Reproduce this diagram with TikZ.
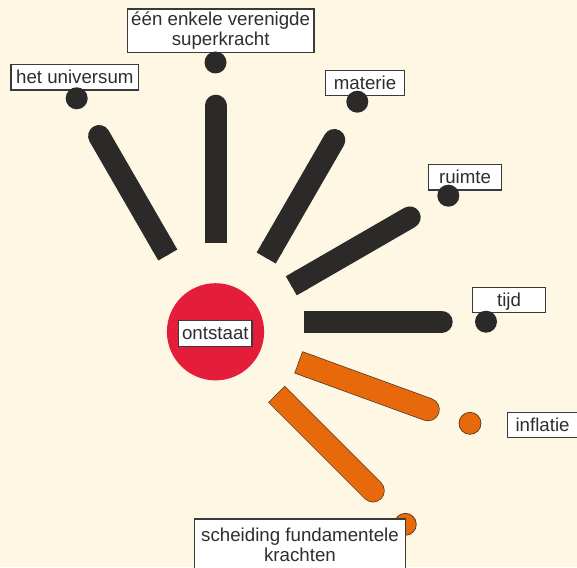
\documentclass[tikz,border=0pt]{standalone}
\usepackage{fontspec}
\setmainfont{Liberation Sans}
\usetikzlibrary{calc}
\definecolor{bg}{HTML}{FDF7E4}
\definecolor{barblack}{HTML}{2B2A28}
\definecolor{redc}{HTML}{E31D3A}
\definecolor{orangec}{HTML}{E8690B}
\definecolor{outl}{HTML}{4A3526}
\definecolor{boxline}{HTML}{3A3A3A}
\definecolor{txt}{HTML}{2E2E2E}
\tikzset{
  lbl/.style={draw=boxline, line width=1.2pt, fill=white, text=txt, inner sep=0pt,
    font=\fontsize{18.7}{20}\selectfont, align=center},
  oneline/.style={lbl, text height=13.4pt, text depth=1pt},
  blackdot/.style={fill=barblack},
  orangedot/.style={fill=orangec, draw=outl, line width=0.7pt},
}
\begin{document}
\begin{tikzpicture}[x=1pt,y=-1pt]
\fill[bg] (0,0) rectangle (577,567);
\useasboundingbox (0,0) rectangle (577,567);

% bar end points: A = flat end, B = centre of round end
\coordinate (uA) at (167.8,255);   \coordinate (uB) at (99.1,136);
\coordinate (sA) at (215.5,243);   \coordinate (sB) at (215.5,105.7);
\coordinate (mA) at (266.2,258);   \coordinate (mB) at (334.3,140);
\coordinate (rA) at (291.3,285.8); \coordinate (rB) at (409.7,217.4);
\coordinate (tA) at (304,321.8);   \coordinate (tB) at (441.7,321.8);
\coordinate (iA) at (299,362.5);   \coordinate (iB) at (428,409.5);
\coordinate (fA) at (277,394.7);   \coordinate (fB) at (373,490.7);

% black bars: round at B, flat at A
\foreach \b in {u,s,m,r,t}{
  \draw[line width=22pt, draw=barblack, line cap=round] ($(\b A)!11pt!(\b B)$) -- (\b B);
  \draw[line width=22pt, draw=barblack, line cap=butt] (\b A) -- ($(\b A)!13pt!(\b B)$);
}
% orange bars with thin outline
\foreach \b in {i,f}{
  \draw[line width=23.4pt, draw=outl, line cap=round] ($(\b A)!11pt!(\b B)$) -- (\b B);
  \draw[line width=23.4pt, draw=outl, line cap=butt] ($(\b A)!-0.7pt!(\b B)$) -- ($(\b A)!13pt!(\b B)$);
  \draw[line width=22pt, draw=orangec, line cap=round] ($(\b A)!11pt!(\b B)$) -- (\b B);
  \draw[line width=22pt, draw=orangec, line cap=butt] (\b A) -- ($(\b A)!13pt!(\b B)$);
}

% centre
\fill[redc] (215.5,331.8) circle (48.6pt);
\node[oneline, minimum width=73.3pt, minimum height=26pt] (ontstaat) at (215.35,333.7) {ontstaat};

% labels
\node[oneline, minimum width=127.7pt, minimum height=25.7pt] (universum) at (74.85,77.15) {het universum};
\node[lbl, minimum width=186.7pt, minimum height=43.3pt] (superkracht) at (220.65,30.65) {één enkele verenigde\\superkracht};
\node[oneline, minimum width=78.6pt, minimum height=25pt] (materie) at (365,83.2) {materie};
\node[oneline, minimum width=73.4pt, minimum height=25.3pt] (ruimte) at (465,177.35) {ruimte};
\node[oneline, minimum width=72.6pt, minimum height=25pt] (tijd) at (509,299.8) {tijd};
\node[oneline, minimum width=69.8pt, minimum height=25.4pt] (inflatie) at (542.6,424.9) {inflatie};

% dots
\fill[blackdot] (76.7,98.3) circle (11pt);
\fill[blackdot] (215.5,62.5) circle (11pt);
\fill[blackdot] (357.3,101.7) circle (11pt);
\fill[blackdot] (448.3,195.7) circle (11pt);
\fill[blackdot] (486,321.7) circle (11pt);
\filldraw[orangedot] (470,423.3) circle (11pt);
\filldraw[orangedot] (405.3,524.3) circle (11pt);

\node[lbl, minimum width=211.4pt, minimum height=51.7pt] (scheiding) at (300,544.85) {scheiding fundamentele\\krachten};
\end{tikzpicture}
\end{document}
